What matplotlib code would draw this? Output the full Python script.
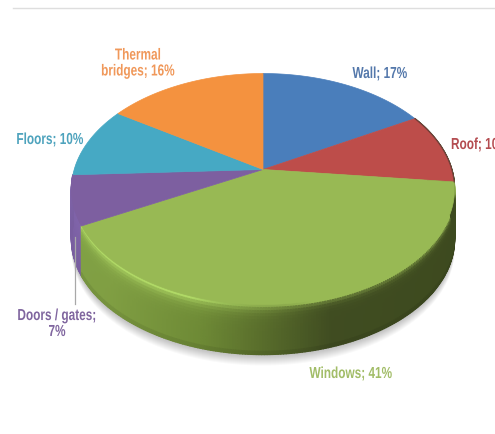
import numpy as np
import matplotlib
matplotlib.use("Agg")
import matplotlib.pyplot as plt
from matplotlib.collections import PolyCollection
from matplotlib.colors import to_rgb
from matplotlib.patheffects import AbstractPathEffect
from matplotlib.transforms import Affine2D

# Data: clockwise from 12 o'clock. Labels sum to 101 because of rounding.
categories = ["Wall", "Roof", "Windows", "Doors / gates", "Floors", "Thermal bridges"]
values = [17, 10, 41, 7, 10, 16]
label_texts = ["Wall; 17%", "Roof; 10%", "Windows; 41%", "Doors / gates;\n7%", "Floors; 10%", "Thermal\nbridges; 16%"]
top_colors = ["#4a7ebb", "#bd4d4a", "#98b954", "#7d5fa0", "#46a9c4", "#f4923f"]
text_colors = ["#5478ab", "#b44c50", "#a2bd68", "#80669f", "#4ea3bd", "#f0985a"]
label_pos = [(380, 74.5, "center"), (451, 145.5, "left"), (351, 374.5, "center"),
             (57, 324.5, "center"), (50, 140.5, "center"), (138, 64, "center")]

CX, CY, BX, BY, K, DEPTH = 263, 170.5, 188.8, 112.2, 0.169, 50


class Narrow(AbstractPathEffect):
    """Condense text horizontally about a fixed x position."""
    def __init__(self, x0, sx):
        super().__init__()
        self.x0, self.sx = x0, sx

    def draw_path(self, renderer, gc, tpath, affine, rgbFace=None):
        t = affine + Affine2D().translate(-self.x0, 0).scale(self.sx, 1).translate(self.x0, 0)
        renderer.draw_path(gc, tpath, t, rgbFace)


def project(theta):
    """Perspective projection of a point on the pie's rim (theta clockwise from top)."""
    x, y = np.sin(theta), -np.cos(theta)
    w = 1 - K * y
    return CX + BX * x / w, CY + BY * y / w


fig = plt.figure(figsize=(4.95, 4.35), dpi=100)
ax = fig.add_axes([0, 0, 1, 1])
ax.set_xlim(0, 495)
ax.set_ylim(435, 0)
ax.axis("off")

ax.plot([13, 495], [8.5, 8.5], color="#dedede", lw=1.0)

frac = np.cumsum([0] + values) / sum(values) * 2 * np.pi

# soft shadow under the body
tt = np.linspace(np.pi * 0.45, np.pi * 1.55, 200)
sx, sy = project(tt)
for d in range(11, 0, -1):
    ax.fill(np.r_[sx, sx[::-1]], np.r_[sy + DEPTH + d, sy[::-1]], color="#000000",
            alpha=0.022, lw=0, zorder=1)

# side wall
stops_x = [70, 110, 200, 260, 330, 460]
stops_g = np.array([(0.50, 0.63, 0.27), (0.50, 0.62, 0.26), (0.43, 0.54, 0.21),
                    (0.35, 0.43, 0.17), (0.25, 0.30, 0.13), (0.24, 0.29, 0.12)])
top_g = np.array(to_rgb(top_colors[2]))
polys, cols = [], []
for i in (3, 2, 1):
    a0, a1 = frac[i], frac[i + 1]
    n = max(int((a1 - a0) / 0.012), 3)
    th = np.linspace(a0, a1, n + 1)
    xs, ys = project(th)
    for j in range(n):
        xm = (xs[j] + xs[j + 1]) / 2
        ts = np.linspace(0, 1, 17)
        for m in range(16):
            t = ts[m]
            if i == 2:
                base = np.array([np.interp(xm, stops_x, stops_g[:, c]) for c in range(3)])
                lit = np.clip((310 - xm) / 120, 0, 1)
                col = base + (np.array([0.69, 0.85, 0.40]) - base) * np.exp(-t / 0.11) * lit
                col = col + (top_g - col) * np.exp(-t / 0.06) * (1 - lit)
                col = col * (1 - 0.35 * max(t - 0.92, 0) / 0.08)
            elif i == 3:
                col = np.array(to_rgb("#8064aa")) * (1 - 0.06 * t)
            else:
                col = np.array(to_rgb("#3d4a20"))
            polys.append([(xs[j], ys[j] + ts[m] * DEPTH), (xs[j + 1], ys[j + 1] + ts[m] * DEPTH),
                          (xs[j + 1], ys[j + 1] + ts[m + 1] * DEPTH), (xs[j], ys[j] + ts[m + 1] * DEPTH)])
            cols.append(np.clip(col, 0, 1))
ax.add_collection(PolyCollection(polys, facecolors=cols, edgecolors=cols, linewidths=1.0, zorder=2))

# top surface
for i in range(len(values)):
    th = np.linspace(frac[i], frac[i + 1], 120)
    xs, ys = project(th)
    ax.fill(np.r_[CX, xs], np.r_[CY, ys], color=top_colors[i], lw=0.5, ec=top_colors[i], zorder=3)

# dark rim on the roof slice's outer edge
th = np.linspace(frac[1], frac[2], 60)
xs, ys = project(th)
ax.plot(xs, ys, color="#5a3a36", lw=0.9, alpha=0.7, zorder=4)

# labels
for txt, c, (x, y, ha) in zip(label_texts, text_colors, label_pos):
    ax.text(x, y, txt, color=c, ha=ha, va="center", fontsize=11.5, fontweight="bold",
            family=["Liberation Sans", "DejaVu Sans"], linespacing=1.08, zorder=6,
            path_effects=[Narrow(x, 0.74)])

# leader line for the Doors / gates label
ax.plot([74.5, 74.5], [238, 305], color="#a8a8a8", lw=0.9, zorder=5)

fig.savefig("out.png", dpi=100)
